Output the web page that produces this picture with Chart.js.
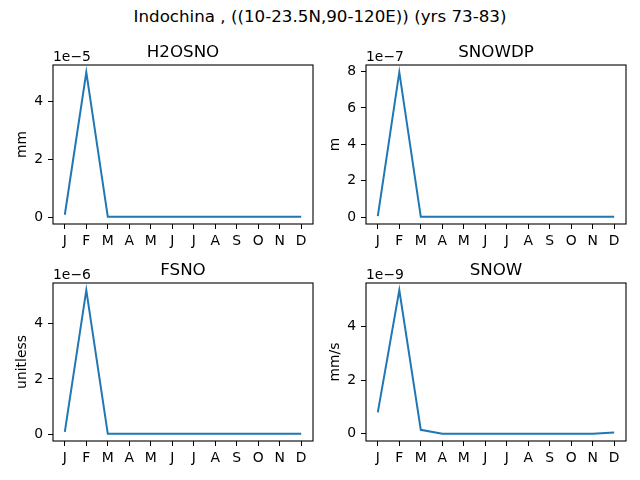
<!DOCTYPE html>
<html>
<head>
<meta charset="utf-8">
<script src="https://cdn.jsdelivr.net/npm/chart.js@4/dist/chart.umd.min.js"></script>
<style>
  body { margin: 0; background: #fff; width: 640px; height: 480px; position: relative; overflow: hidden; font-family: "DejaVu Sans", sans-serif; }
  #suptitle { position: absolute; left: 0; top: 6px; width: 640px; text-align: center; font-size: 16.7px; line-height: 20px; color: #000; }
  canvas { position: absolute; }
</style>
</head>
<body>
<div id="suptitle">Indochina , ((10-23.5N,90-120E)) (yrs 73-83)</div>
<canvas id="c1" width="320" height="250" style="left:0px;top:0px"></canvas>
<canvas id="c2" width="320" height="250" style="left:313px;top:0px"></canvas>
<canvas id="c3" width="320" height="230" style="left:0px;top:250px"></canvas>
<canvas id="c4" width="320" height="230" style="left:313px;top:250px"></canvas>
<script>
// month tick labels
const months = ['J', 'F', 'M', 'A', 'M', 'J', 'J', 'A', 'S', 'O', 'N', 'D'];

// values are given in units of the axis offset (1e-5, 1e-7, 1e-6, 1e-9)
const h2osno = [0.08, 5.0, 0.01, 0.01, 0.01, 0.01, 0.01, 0.01, 0.01, 0.01, 0.01, 0.01];
const snowdp = [0.05, 7.96, 0.02, 0.02, 0.02, 0.02, 0.02, 0.02, 0.02, 0.02, 0.02, 0.02];
const fsno = [0.08, 5.22, 0.01, 0.01, 0.01, 0.01, 0.01, 0.01, 0.01, 0.01, 0.01, 0.01];
const snow = [0.8, 5.36, 0.15, 0.0, 0.0, 0.0, 0.0, 0.0, 0.0, 0.0, 0.0, 0.05];

const FONT = 'DejaVu Sans';

// draws the frame, subplot title and the 1e-N offset text
const axesDeco = {
  id: 'axesDeco',
  afterDraw(chart, args, opts) {
    const a = chart.chartArea;
    const ctx = chart.ctx;
    ctx.save();
    ctx.strokeStyle = '#000';
    ctx.lineWidth = 1.1;
    ctx.strokeRect(a.left, a.top, a.right - a.left, a.bottom - a.top);
    ctx.fillStyle = '#000';
    ctx.textBaseline = 'alphabetic';
    ctx.font = '16.7px "' + FONT + '"';
    ctx.textAlign = 'center';
    ctx.fillText(opts.title, (a.left + a.right) / 2, a.top - 8.3);
    ctx.font = '13.9px "' + FONT + '"';
    ctx.textAlign = 'left';
    ctx.fillText(opts.offset, a.left, a.top - 4);
    ctx.restore();
  }
};

function makeChart(id, values, title, offset, unit, top, xHeight) {
  const lo = Math.min(...values), hi = Math.max(...values);
  const m = (hi - lo) * 0.05;
  new Chart(document.getElementById(id), {
    type: 'line',
    data: {
      datasets: [{
        data: values.map((v, i) => ({ x: i, y: v })),
        borderColor: '#1f77b4',
        borderWidth: 2,
        pointRadius: 0,
        tension: 0,
        fill: false
      }]
    },
    options: {
      responsive: false,
      animation: false,
      layout: { padding: { top: top, right: 7, left: 0, bottom: 0 } },
      plugins: {
        legend: { display: false },
        tooltip: { enabled: false },
        axesDeco: { title: title, offset: offset }
      },
      scales: {
        x: {
          type: 'linear',
          min: -0.55,
          max: 11.55,
          afterFit(scale) { scale.height = xHeight; },
          border: { display: false },
          grid: { drawOnChartArea: false, drawTicks: true, tickLength: 5, color: '#000', lineWidth: 1 },
          ticks: {
            stepSize: 1,
            includeBounds: false,
            autoSkip: false,
            maxRotation: 0,
            padding: 4,
            color: '#000',
            font: { family: FONT, size: 13.9 },
            callback: v => months[v]
          }
        },
        y: {
          min: lo - m,
          max: hi + m,
          afterFit(scale) { scale.width = 53; },
          border: { display: false },
          grid: { drawOnChartArea: false, drawTicks: true, tickLength: 5, color: '#000', lineWidth: 1 },
          title: {
            display: true,
            text: unit,
            color: '#000',
            font: { family: FONT, size: 13.9 },
            padding: { top: 13.7, bottom: 0 }
          },
          ticks: {
            stepSize: 2,
            includeBounds: false,
            padding: 5,
            color: '#000',
            font: { family: FONT, size: 13.9 },
            callback: v => String(v)
          }
        }
      }
    },
    plugins: [axesDeco]
  });
}

makeChart('c1', h2osno, 'H2OSNO', '1e\u22125', 'mm', 65, 26);
makeChart('c2', snowdp, 'SNOWDP', '1e\u22127', 'm', 65, 26);
makeChart('c3', fsno, 'FSNO', '1e\u22126', 'unitless', 33, 39);
makeChart('c4', snow, 'SNOW', '1e\u22129', 'mm/s', 33, 39);
</script>
</body>
</html>
